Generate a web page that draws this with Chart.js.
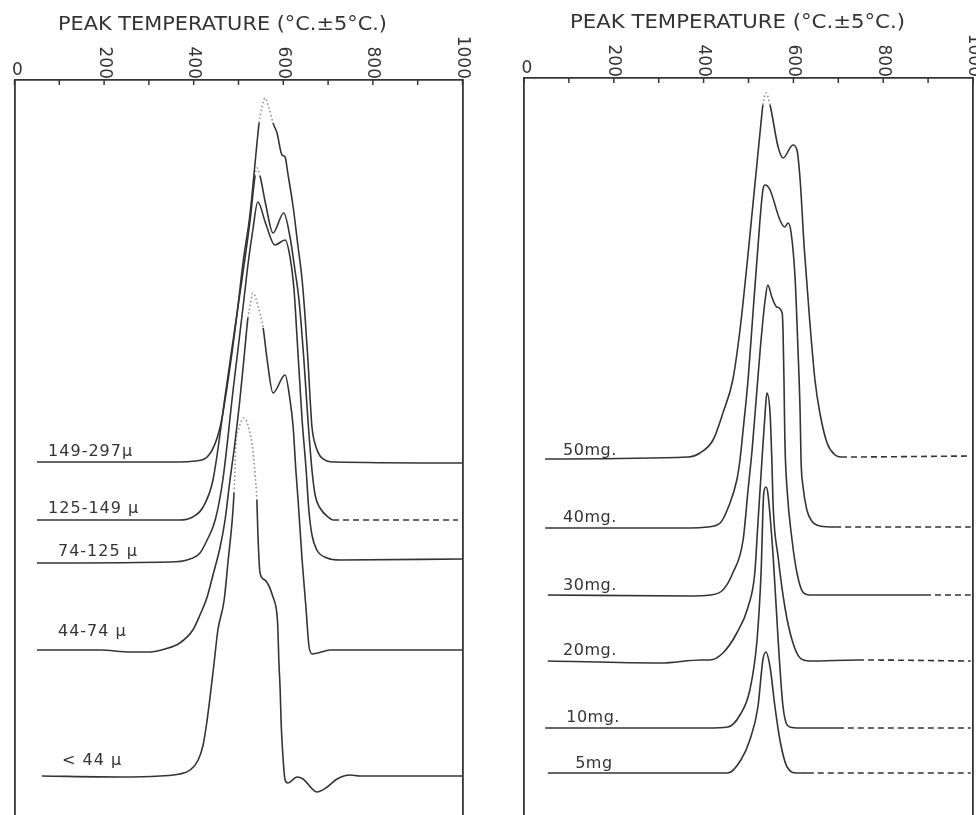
<!DOCTYPE html>
<html>
<head>
<meta charset="utf-8">
<script src="https://cdn.jsdelivr.net/npm/chart.js@4.4.1/dist/chart.umd.min.js"></script>
<style>
  html, body { margin: 0; padding: 0; background: #fff; overflow: hidden; }
  #wrap { position: relative; width: 976px; height: 815px; overflow: hidden; }
  canvas { position: absolute; top: 0; }
  #left { left: 0; }
  #right { left: 488px; }
</style>
</head>
<body>
<div id="wrap">
  <canvas id="left" width="488" height="830"></canvas>
  <canvas id="right" width="488" height="830"></canvas>
</div>
<script>
// x = peak temperature (deg C), y = deflection (arbitrary units, curves stacked)
var titleText = "PEAK TEMPERATURE (°C.±5°C.)";
var tempTicks = [0, 200, 400, 600, 800, 1000];

// ---- left panel: particle size ----
var sizeNames = ["149-297µ", "125-149 µ", "74-125 µ", "44-74 µ", "< 44 µ"];

var t149 = [50, 369, 403, 430, 459, 481, 497, 510, 526, 537, 546, 552, 559, 568, 577, 586, 597, 604, 610, 622, 633, 642, 648, 655, 660, 664, 673, 682, 698, 715, 1000];
var v149 = [73.6, 73.6, 73.8, 74.6, 80.6, 92.6, 103.4, 113.4, 123.4, 133.4, 141.4, 144.4, 146.4, 144.4, 141.4, 139.4, 135, 134.6, 131.4, 124.6, 116.6, 110, 103.4, 94, 86, 80.6, 76.6, 74.8, 73.8, 73.6, 73.4];

var t125 = [50, 369, 398, 421, 443, 472, 501, 514, 526, 537, 541, 548, 561, 577, 601, 615, 626, 635, 646, 655, 664, 671, 682, 700, 711, 990];
var v125 = [62, 62, 62.6, 64.6, 70, 88, 106, 114, 122, 130.8, 132.4, 130.8, 125, 119.4, 123.4, 118.6, 112, 106, 94, 82, 72, 67, 64.4, 62.6, 62, 62];

var t74 = [50, 347, 385, 414, 430, 448, 465, 488, 512, 521, 532, 543, 561, 581, 604, 615, 624, 631, 642, 651, 657, 664, 675, 698, 726, 1000];
var v74 = [53.4, 53.6, 54, 55.4, 58, 62, 70, 88, 106, 113, 120, 125.6, 121.2, 117, 118, 114.6, 108, 98, 82, 72, 64, 59, 56, 54.4, 54, 54.2];

var t44 = [50, 191, 258, 302, 336, 369, 398, 414, 430, 443, 459, 470, 481, 490, 503, 514, 521, 526, 532, 543, 555, 564, 577, 604, 615, 622, 628, 633, 642, 651, 657, 664, 677, 704, 1000];
var v44 = [36, 36, 35.6, 35.6, 36.2, 37.4, 40, 43, 46.6, 51, 56.6, 62, 70, 76, 86, 96, 102.4, 105, 107.4, 105, 100.4, 94, 87.4, 91, 86, 80.6, 72, 66, 54, 44, 37, 35.2, 35.4, 36, 36];

var tFine = [61, 235, 325, 369, 392, 410, 421, 430, 445, 454, 468, 477, 486, 490, 492, 494, 501, 512, 523, 532, 537, 541, 543, 548, 559, 577, 586, 588, 590, 593, 595, 597, 604, 610, 631, 644, 675, 698, 720, 749, 771, 1000];
var vFine = [10.8, 10.6, 10.8, 11.2, 12, 14, 17, 22, 33, 40, 46, 54, 62, 67.4, 72, 77, 80.4, 82.4, 80.4, 76, 71, 66, 60, 51.4, 50, 46.6, 43, 40, 34, 28, 22, 18, 10, 9.4, 10.6, 10.2, 7.6, 8.6, 10.2, 11, 10.8, 10.8];

// ---- right panel: sample weight ----
var massNames = ["50mg.", "40mg.", "30mg.", "20mg.", "10mg.", "5mg"];

var t50 = [47, 365, 392, 421, 443, 465, 481, 497, 508, 519, 530, 532, 539, 548, 566, 577, 599, 608, 615, 624, 635, 648, 659, 675, 693, 706, 995];
var v50 = [73.8, 74.2, 75, 77.6, 83, 89.6, 99.6, 113, 123, 133, 143, 144.6, 147, 144.6, 136.2, 134, 136.6, 135.6, 129.6, 116.2, 103, 89.6, 83, 77, 74.6, 74.2, 74.4];

var t40 = [47, 370, 408, 437, 457, 474, 481, 488, 499, 510, 521, 532, 537, 548, 570, 581, 588, 595, 604, 610, 615, 617, 621, 630, 641, 659, 693, 995];
var v40 = [60, 60, 60.2, 61, 64.6, 69.6, 73.6, 79.6, 89.6, 103, 116.2, 127.6, 128.6, 127.6, 121.6, 120.2, 121, 119, 109.6, 96.2, 83, 73.6, 68.6, 63.6, 61.4, 60.4, 60.2, 60.2];

var t30 = [53, 370, 414, 443, 465, 488, 499, 508, 517, 526, 537, 543, 552, 563, 575, 577, 579, 581, 586, 597, 608, 621, 637, 893, 995];
var v30 = [46.6, 46.4, 46.6, 47.6, 51, 57.6, 67.6, 75.6, 85.6, 95.6, 105.6, 108.6, 106.2, 104.2, 103, 99, 89.6, 77.6, 67.6, 57.6, 51, 47.2, 46.6, 46.6, 46.6];

var t20 = [53, 305, 394, 414, 443, 474, 499, 514, 521, 530, 537, 541, 548, 552, 555, 566, 581, 597, 615, 637, 744, 995];
var v20 = [33.4, 33, 33.6, 33.6, 35, 39, 44.2, 51, 61, 73.6, 83, 87, 83, 73.6, 64.2, 54.2, 44.2, 37.6, 34, 33.4, 33.6, 33.4];

var t10 = [47, 408, 454, 481, 503, 519, 528, 534, 539, 543, 555, 566, 577, 592, 615, 699, 995];
var v10 = [20, 20, 20.2, 22.6, 27.6, 37.6, 51, 67, 68.2, 67, 54.2, 37.6, 24.2, 20.2, 20, 20, 20];

var t5 = [53, 454, 483, 503, 521, 532, 539, 548, 559, 570, 586, 608, 632, 995];
var v5 = [11, 11, 13.6, 17.6, 24.2, 33.6, 35.2, 32.2, 24.2, 17.6, 12.2, 11, 11, 11];

// which stretches were drawn dotted (peak tips) or dashed (tails), by point index
var dottedLeft = [[10, 14], [9, 11], null, [16, 20], [13, 21]];
var dashFromLeft = [null, 24, null, null, null];
var dottedRight = [[11, 13], null, null, null, null, null];
var dashFromRight = [25, 26, 23, 20, 15, 12];

var ink = "#343434";
var faint = "#8e8e8e";
var font = "DejaVu Sans";

function points(t, v) {
  return t.map(function (x, i) { return { x: x, y: v[i] }; });
}

function segStyle(dotted, dashFrom) {
  function isDot(c) { return dotted && c.p0DataIndex >= dotted[0] && c.p1DataIndex <= dotted[1]; }
  function isDash(c) { return dashFrom != null && c.p0DataIndex >= dashFrom; }
  return {
    borderDash: function (c) { return isDot(c) ? [1.5, 2.5] : isDash(c) ? [6, 4] : undefined; },
    borderColor: function (c) { return isDot(c) ? faint : undefined; }
  };
}

function datasets(names, series, dotted, dashFrom) {
  return names.map(function (n, i) {
    return {
      label: n,
      data: points(series[i][0], series[i][1]),
      borderColor: ink,
      borderWidth: 1.6,
      pointRadius: 0,
      cubicInterpolationMode: "monotone",
      fill: false,
      segment: segStyle(dotted[i], dashFrom[i])
    };
  });
}

var frame = {
  id: "frame",
  afterDraw: function (chart) {
    var o = chart.options.plugins.frame;
    var ctx = chart.ctx, x = chart.scales.x, y = chart.scales.y, area = chart.chartArea;
    ctx.save();
    ctx.strokeStyle = ink;
    ctx.fillStyle = ink;
    ctx.lineWidth = 1.5;
    // tick marks inside the frame every 100 deg
    x.ticks.forEach(function (t) {
      var px = x.getPixelForValue(t.value);
      ctx.beginPath();
      ctx.moveTo(px, area.top);
      ctx.lineTo(px, area.top + 5);
      ctx.stroke();
    });
    // temperature labels, turned to read downwards ("0" stays upright)
    ctx.font = "17px " + font;
    tempTicks.forEach(function (v) {
      var px = x.getPixelForValue(v);
      ctx.save();
      if (v === 0) {
        ctx.textAlign = "center";
        ctx.textBaseline = "alphabetic";
        ctx.fillText("0", px + 3, area.top - 5);
      } else {
        ctx.translate(px, area.top - 1);
        ctx.rotate(Math.PI / 2);
        ctx.textAlign = "right";
        ctx.textBaseline = "middle";
        ctx.fillText(String(v), 0, 0);
      }
      ctx.restore();
    });
    // title
    ctx.font = "20px " + font;
    ctx.textAlign = "left";
    ctx.textBaseline = "alphabetic";
    var w = ctx.measureText(titleText).width;
    ctx.save();
    ctx.translate(o.titleLeft, o.titleBase);
    ctx.scale((o.titleRight - o.titleLeft) / w, 1);
    ctx.fillText(titleText, 0, 0);
    ctx.restore();
    // curve labels
    ctx.font = "16px " + font;
    ctx.letterSpacing = o.spacing;
    chart.data.datasets.forEach(function (ds, i) {
      var lx = x.getPixelForValue(o.labelAt[i]);
      var ly = y.getPixelForValue(ds.data[0].y) - o.labelGap[i];
      ctx.fillText(ds.label, lx, ly);
    });
    ctx.restore();
  }
};

function axis(pos, min, max, extra) {
  var a = {
    type: "linear", position: pos, min: min, max: max,
    ticks: { display: false },
    grid: { display: false, drawTicks: false },
    border: { display: true, color: ink, width: 1.8 }
  };
  if (extra) a.ticks.stepSize = extra;
  return a;
}

function panel(id, names, series, dotted, dashFrom, pad, deco) {
  return new Chart(document.getElementById(id), {
    type: "line",
    data: { datasets: datasets(names, series, dotted, dashFrom) },
    plugins: [frame],
    options: {
      responsive: false,
      animation: false,
      devicePixelRatio: 1,
      layout: { padding: pad },
      plugins: { legend: { display: false }, tooltip: { enabled: false }, frame: deco },
      scales: {
        x: axis("top", 0, 1000, 100),
        y: axis("left", 0, 150),
        y2: axis("right", 0, 150)
      }
    }
  });
}

panel("left", sizeNames,
  [[t149, v149], [t125, v125], [t74, v74], [t44, v44], [tFine, vFine]],
  dottedLeft, dashFromLeft,
  { top: 80, left: 14.5, right: 25.5, bottom: 0 },
  { titleLeft: 58, titleRight: 387, titleBase: 30, labelAt: [75, 75, 97, 97, 106], labelGap: [6, 7, 7, 14, 11], spacing: "1px" });

panel("right", massNames,
  [[t50, v50], [t40, v40], [t30, v30], [t20, v20], [t10, v10], [t5, v5]],
  dottedRight, dashFromRight,
  { top: 78, left: 36, right: 3, bottom: 2 },
  { titleLeft: 82, titleRight: 417, titleBase: 28, labelAt: [87, 87, 87, 87, 94, 114], labelGap: [4, 6, 5, 6, 6, 5], spacing: "0.5px" });
</script>
</body>
</html>
